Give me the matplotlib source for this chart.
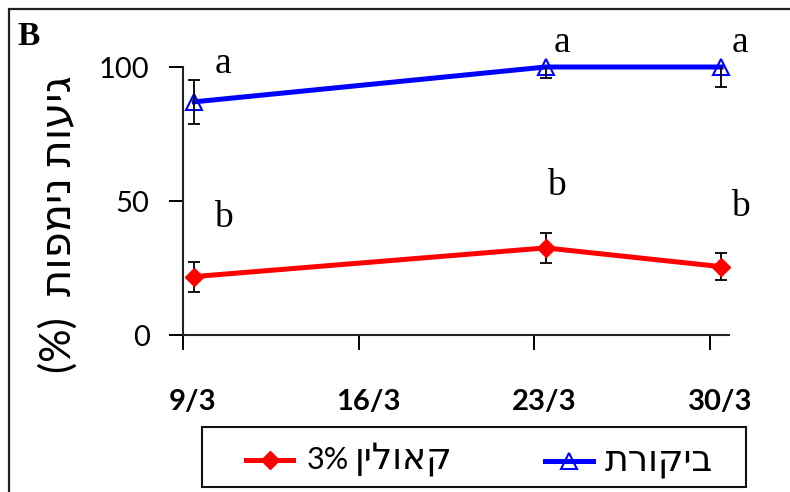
import matplotlib.pyplot as plt
import matplotlib.transforms as mtransforms
from matplotlib.patches import Rectangle
from matplotlib.lines import Line2D

# data
days = [9.45, 23.45, 30.45]
control = [87, 100, 100]
control_err = [8.3, 4, 7.5]
kaolin = [21.8, 32.5, 25.5]
kaolin_err = [5.6, 5.7, 5.0]

xticks = [9, 16, 23, 30]
xtick_labels = ['9/3', '16/3', '23/3', '30/3']
yticks = [0, 50, 100]

# significance letters (x, y, text)
letter_x = [10.6, 24.1, 31.2, 10.6, 23.9, 31.2]
letter_y = [97.8, 105.6, 105.6, 40.3, 52.2, 44.4]
letter_txt = ['a', 'a', 'a', 'b', 'b', 'b']

# hebrew strings given in visual (left-to-right) order
ylabel_txt = '(%)  תופמינ תועיג'
kaolin_pct = '3%'
kaolin_heb = 'ןילואק'
control_heb = 'תרוקיב'

W, H = 790, 492


def fx(px):
    return px / W


def fy(py):
    return 1 - py / H


fig = plt.figure(figsize=(7.9, 4.92), dpi=100)
ax = fig.add_axes([fx(183), fy(335), (729-183)/W, (335-67)/H])

ax.errorbar(days, control, yerr=control_err, fmt='none', ecolor='black',
            elinewidth=1.3, capsize=4.5, capthick=1.3, zorder=4)
ax.errorbar(days, kaolin, yerr=kaolin_err, fmt='none', ecolor='black',
            elinewidth=1.3, capsize=4.5, capthick=1.3, zorder=2)

ax.plot(days, control, color='#0000ff', lw=3.6, marker='^', ms=12,
        mfc='none', mec='#0000ff', mew=1.5, clip_on=False, zorder=3)
ax.plot(days, kaolin, color='#ff0000', lw=3.6, marker='D', ms=9,
        mfc='#ff0000', mec='#ff0000', clip_on=False, zorder=3)

for x, y, t in zip(letter_x, letter_y, letter_txt):
    ax.text(x, y, t, ha='center', va='baseline', fontsize=27,
            family='Liberation Serif', clip_on=False)

ax.set_xlim(9, 30.76)
ax.set_ylim(0, 100)
ax.set_xticks(xticks)
ax.set_xticklabels(xtick_labels, family='Lato', fontweight='bold', fontsize=21)
ax.set_yticks(yticks)
ax.set_yticklabels([str(v) for v in yticks], family='Lato', fontsize=21)
ax.tick_params(axis='x', direction='out', length=11, width=1.4, pad=28)
ax.tick_params(axis='y', direction='out', length=10, width=1.4, pad=14)

# x labels sit a bit right of their ticks
offset = mtransforms.ScaledTranslation(0.10, 0, fig.dpi_scale_trans)
for lbl in ax.get_xticklabels():
    lbl.set_transform(lbl.get_transform() + offset)

for s in ['top', 'right']:
    ax.spines[s].set_visible(False)
for s in ['left', 'bottom']:
    ax.spines[s].set_linewidth(1.5)
    ax.spines[s].set_color('#222222')

fig.text(fx(58), fy(224), ylabel_txt, rotation=90, ha='center', va='center',
         fontsize=30, family=['Lato', 'DejaVu Sans'])
fig.text(fx(17), fy(45), 'B', fontsize=24, fontweight='bold',
         family='Liberation Serif', ha='left', va='baseline')

# outer frame, running off the right and bottom edges
fig.add_artist(Rectangle((fx(9), -0.2), 1.1, 1.2 - 9/H, transform=fig.transFigure,
                         fill=False, lw=1.6, ec='#222222'))

# legend box drawn by hand to keep Excel's spacing
fig.add_artist(Rectangle((fx(202), fy(487)), (746-202)/W, 60/H,
                         transform=fig.transFigure, fill=False, lw=1.5, ec='#111111'))
fig.add_artist(Line2D([fx(246), fx(270), fx(293)], [fy(460)]*3, transform=fig.transFigure,
                      color='#ff0000', lw=3.6, marker='D', ms=9, markevery=[1]))
fig.text(fx(307), fy(460), kaolin_pct, ha='left', va='center', fontsize=22,
         family='Lato')
fig.text(fx(355), fy(460), kaolin_heb, ha='left', va='center', fontsize=26,
         family='DejaVu Sans')
fig.add_artist(Line2D([fx(545), fx(569), fx(593)], [fy(461)]*3, transform=fig.transFigure,
                      color='#0000ff', lw=3.6, marker='^', ms=12, mfc='none',
                      mew=1.5, markevery=[1]))
fig.text(fx(605), fy(461), control_heb, ha='left', va='center', fontsize=26,
         family='DejaVu Sans')

fig.savefig('out.png', dpi=100)
